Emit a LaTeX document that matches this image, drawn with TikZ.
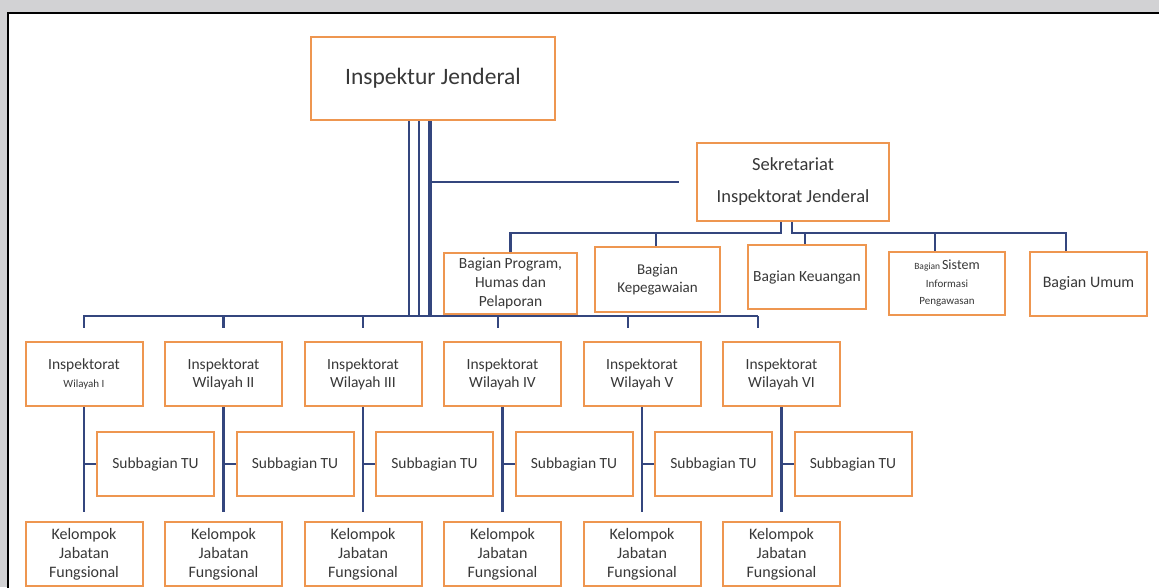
\documentclass[tikz,border=0pt]{standalone}
\usepackage{fontspec}
\setmainfont{Carlito}
\definecolor{navy}{HTML}{34467E}
\definecolor{borange}{HTML}{EE9650}
\definecolor{txt}{HTML}{383838}
\definecolor{bandgray}{HTML}{D2D2D4}
\begin{document}
\begin{tikzpicture}[x=1pt,y=-1pt,
  box/.style={draw=borange, line width=2pt, fill=white, text=txt, align=center,
    inner sep=0pt, minimum width=117pt, minimum height=64pt},
  link/.style={draw=navy, line width=2.4pt},
  thinlink/.style={draw=navy, line width=1.8pt},
  thicklink/.style={draw=navy, line width=4pt},
  fA/.style={font=\fontsize{15.5}{18}\selectfont},
  fB/.style={font=\fontsize{16}{19}\selectfont}]
\useasboundingbox (0,0) rectangle (1159,587);
\clip (0,0) rectangle (1159,587);
% background and frame
\fill[white] (0,0) rectangle (1159,587);
\fill[bandgray] (0,0) rectangle (1159,12);
\fill[bandgray] (0,0) rectangle (7,587);
\draw[black, line width=2pt] (8,600) -- (8,13) -- (1170,13);

% top nodes
\node[box, minimum width=244pt, minimum height=83pt, font=\fontsize{23.5}{26}\selectfont] (ij) at (433,78.5) {Inspektur Jenderal};
\node[box, minimum width=192pt, minimum height=78pt, font=\fontsize{18.5}{32}\selectfont] (sek) at (793,182) {Sekretariat\\Inspektorat Jenderal};

% bagian
\node[box, minimum width=133pt, minimum height=61pt, font=\fontsize{15.5}{19}\selectfont] (bp) at (510.5,283.5) {Bagian Program,\\Humas dan\\Pelaporan};
\node[box, minimum width=125pt, minimum height=65pt, font=\fontsize{15}{18}\selectfont] (bk) at (657.5,279.5) {Bagian\\Kepegawaian};
\node[box, minimum width=118pt, minimum height=64pt, font=\fontsize{15.5}{18}\selectfont] (bu) at (807,277) {Bagian Keuangan};
\node[box, minimum width=116pt, minimum height=63pt, font=\fontsize{11}{17.5}\selectfont] (bs) at (947,283.5)
  {{\fontsize{9.5}{12}\selectfont Bagian}\,{\fontsize{14}{16}\selectfont Sistem}\\Informasi\\Pengawasan};
\node[box, minimum width=117pt, minimum height=64pt, font=\fontsize{16}{18}\selectfont] (bum) at (1088.5,283.5) {Bagian Umum};

% inspektorat wilayah columns
\foreach \i/\r in {1/I,2/II,3/III,4/IV,5/V,6/VI}{
  \pgfmathsetmacro\cx{84+139.5*(\i-1)}
  \node[box, fA] (ins\i) at (\cx,374) {Inspektorat\\\ifnum\i=1 \fontsize{11}{13}\selectfont\fi Wilayah \r};
  \node[box, fA] (sub\i) at (\cx+71.5,464) {Subbagian TU};
  \node[box, fB] (kel\i) at (\cx,554) {Kelompok\\Jabatan\\Fungsional};
}

% coordinates for buses
\coordinate (bus) at (0,316);
\coordinate (sb) at (0,233);

% lines from Inspektur Jenderal
\draw[thinlink] ([xshift=-24pt]ij.south) -- ([xshift=-24pt]ij.south |- bus);
\draw[thinlink] ([xshift=-14pt]ij.south) -- ([xshift=-14pt]ij.south |- bus);
\draw[thicklink] ([xshift=-3pt]ij.south) -- ([xshift=-3pt]ij.south |- bus);
\draw[link, shorten >=17pt] ([xshift=-1pt]ij.south |- sek.west) -- (sek.west);

% secretariat bus
\draw[link] ([xshift=-12pt]sek.south) -- ([xshift=-12pt]sek.south |- sb) -| (bp.north);
\draw[link] ([xshift=-1.5pt]bk.north |- sb) -- ([xshift=-1.5pt]bk.north);
\draw[link] ([xshift=-1pt]sek.south) -- ([xshift=-1pt]sek.south |- sb) -| ([xshift=-22.5pt]bum.north);
\draw[link] ([xshift=-2pt]bu.north |- sb) -- ([xshift=-2pt]bu.north);
\draw[link] ([xshift=-12pt]bs.north |- sb) -- ([xshift=-12pt]bs.north);

% inspektorat bus
\draw[link] ([xshift=-1pt]ins1.north |- bus) -- ([xshift=-23.5pt]ins6.north |- bus);
\foreach \i/\sh in {1/0,2/0,3/0,4/-4.5,5/-14,6/-23.5}{
  \draw[link, shorten >=13pt] ([xshift=\sh pt]ins\i.north |- bus) -- ([xshift=\sh pt]ins\i.north);
  \draw[link, shorten >=9pt] (ins\i.south) -- (kel\i.north);
  \draw[link] (ins\i.south |- sub\i.west) -- (sub\i.west);
}
\end{tikzpicture}
\end{document}
